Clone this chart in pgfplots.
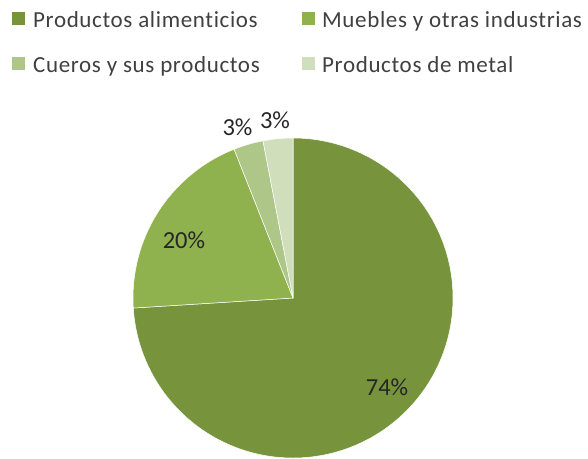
\documentclass[border=0pt]{standalone}
\usepackage{pgfplots}
\pgfplotsset{compat=1.18}
\usepackage{fontspec}
\setmainfont{Carlito}[Ligatures=NoCommon]
\newfontfamily\legfont{Carlito}[Ligatures=NoCommon, LetterSpace=2.8]
\definecolor{cA}{HTML}{77933C}
\definecolor{cB}{HTML}{8FB24F}
\definecolor{cC}{HTML}{AEC688}
\definecolor{cD}{HTML}{D0DEBB}
\definecolor{legtxt}{HTML}{404040}
\definecolor{labtxt}{HTML}{262626}
% slice values (percent)
\def\vA{74}
\def\vB{20}
\def\vC{3}
\def\vD{3}
\pgfmathsetmacro\aA{90}
\pgfmathsetmacro\aB{\aA-3.6*\vA}
\pgfmathsetmacro\aC{\aB-3.6*\vB}
\pgfmathsetmacro\aD{\aC-3.6*\vC}
\pgfmathsetmacro\aE{\aD-3.6*\vD}
\def\cx{293}
\def\cy{298}
\def\R{160}
\begin{document}
\begin{tikzpicture}
\begin{axis}[
  scale only axis, width=588bp, height=458bp,
  xmin=0, xmax=588, ymin=0, ymax=458, y dir=reverse,
  hide axis, clip=false,
]
\path (axis cs:0,0) rectangle (axis cs:588,458);
\addplot[fill=cA, draw=white, line width=0.5pt, domain=\aB:\aA, samples=180, smooth]
  ({\cx+\R*cos(x)},{\cy-\R*sin(x)}) -- (axis cs:\cx,\cy) -- cycle;
\addplot[fill=cB, draw=white, line width=0.5pt, domain=\aC:\aB, samples=60, smooth]
  ({\cx+\R*cos(x)},{\cy-\R*sin(x)}) -- (axis cs:\cx,\cy) -- cycle;
\addplot[fill=cC, draw=white, line width=0.5pt, domain=\aD:\aC, samples=20, smooth]
  ({\cx+\R*cos(x)},{\cy-\R*sin(x)}) -- (axis cs:\cx,\cy) -- cycle;
\addplot[fill=cD, draw=white, line width=0.5pt, domain=\aE:\aD, samples=20, smooth]
  ({\cx+\R*cos(x)},{\cy-\R*sin(x)}) -- (axis cs:\cx,\cy) -- cycle;
% data labels
\begin{scope}[every node/.style={font=\fontsize{24.5bp}{28bp}\selectfont, text=labtxt, inner sep=0pt}]
\node at (axis cs:387,387) {74\%};
\node at (axis cs:184,240) {20\%};
\node at (axis cs:237.5,127) {3\%};
\node at (axis cs:275,120) {3\%};
\end{scope}
% legend
\fill[cA] (axis cs:12,12) rectangle (axis cs:25,25);
\fill[cB] (axis cs:302,12) rectangle (axis cs:315,25);
\fill[cC] (axis cs:12,57) rectangle (axis cs:25,70);
\fill[cD] (axis cs:302,57) rectangle (axis cs:315,70);
\begin{scope}[every node/.style={font=\legfont\fontsize{23bp}{27bp}\selectfont, text=legtxt, inner sep=0pt, anchor=base west}]
\node at (axis cs:33,27.5) {Productos alimenticios};
\node at (axis cs:322,27.5) {Muebles y otras industrias};
\node at (axis cs:33,72.5) {Cueros y sus productos};
\node at (axis cs:322,72.5) {Productos de metal};
\end{scope}
\end{axis}
\end{tikzpicture}
\end{document}
